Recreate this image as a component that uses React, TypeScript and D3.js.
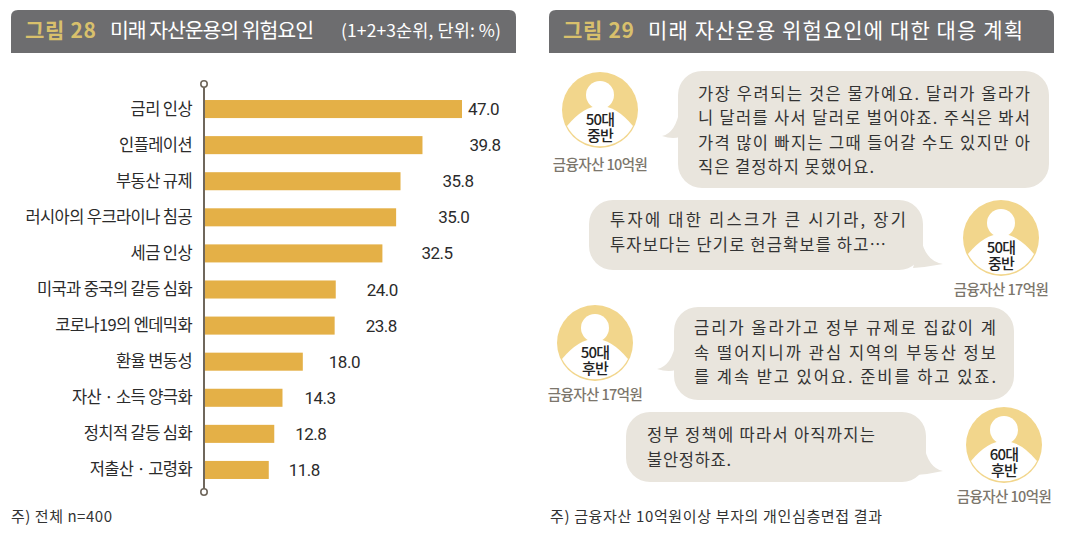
import React from "react";
import * as d3 from "d3";

const categories = ["금리 인상","인플레이션","부동산 규제","러시아의 우크라이나 침공","세금 인상","미국과 중국의 갈등 심화","코로나19의 엔데믹화","환율 변동성","자산 · 소득 양극화","정치적 갈등 심화","저출산 · 고령화"];
const values = [47.0,39.8,35.8,35.0,32.5,24.0,23.8,18.0,14.3,12.8,11.8];
const valueLabelGaps = [6,47,42,42,39,31,31,26,22,21,20];

const bubbleLines = [
  ["가장 우려되는 것은 물가예요. 달러가 올라가","니 달러를 사서 달러로 벌어야죠. 주식은 봐서","가격 많이 빠지는 그때 들어갈 수도 있지만 아","직은 결정하지 못했어요."],
  ["투자에 대한 리스크가 큰 시기라, 장기","투자보다는 단기로 현금확보를 하고…"],
  ["금리가 올라가고 정부 규제로 집값이 계","속 떨어지니까 관심 지역의 부동산 정보","를 계속 받고 있어요. 준비를 하고 있죠."],
  ["정부 정책에 따라서 아직까지는","불안정하죠."],
];
const lineWidths = [[332,332,332,176],[296,276],[302,302,302],[228,84]];
const ages = [["50대","중반"],["50대","중반"],["50대","후반"],["60대","후반"]];
const assets = ["금융자산 10억원","금융자산 17억원","금융자산 17억원","금융자산 10억원"];

const bubbleBoxes = [
  {x:678,y:71,w:371,h:117,side:"left",tx:662,ty:136,cx:600,cy:110,textX:698,firstY:100,lh:24.3,assetX:600,assetY:170},
  {x:589,y:200,w:334,h:70,side:"right",tx:943,ty:264,cx:1001,cy:238,textX:610,firstY:226,lh:24.5,assetX:1001,assetY:295},
  {x:674,y:307,w:340,h:93,side:"left",tx:657,ty:369,cx:595,cy:343,textX:694,firstY:334,lh:24.5,assetX:595,assetY:400},
  {x:626,y:412,w:300,h:70,side:"right",tx:943,ty:471,cx:1004,cy:445,textX:647,firstY:441,lh:24.5,assetX:1004,assetY:502},
];

const FONT = "'Noto Sans CJK KR','Noto Sans',sans-serif";
const x = d3.scaleLinear().domain([0,47]).range([204,462]);
const y = d3.scaleBand<string>().domain(categories).range([91,488]).paddingInner(0.5).paddingOuter(0.25);

function headerPath(x0:number,x1:number,y0:number,y1:number,r:number){
  const p = d3.path();
  p.moveTo(x0,y1); p.lineTo(x0,y0+r); p.quadraticCurveTo(x0,y0,x0+r,y0);
  p.lineTo(x1-r,y0); p.quadraticCurveTo(x1,y0,x1,y0+r); p.lineTo(x1,y1); p.closePath();
  return p.toString();
}

function tailPath(b:any){
  const p = d3.path();
  if(b.side==="left"){
    p.moveTo(b.x+2,b.ty-28);
    p.quadraticCurveTo(b.x-2,b.ty-3,b.tx,b.ty);
    p.quadraticCurveTo(b.x-2,b.ty+5,b.x+8,b.ty-2);
  } else {
    p.moveTo(b.x+b.w-2,b.ty-26);
    p.quadraticCurveTo(b.x+b.w+2,b.ty-3,b.tx,b.ty);
    p.quadraticCurveTo(b.x+b.w+4,b.ty+3,b.x+b.w-10,b.ty+4);
  }
  p.closePath();
  return p.toString();
}

function Avatar({cx,cy,lines}:{cx:number,cy:number,lines:string[]}){
  const R=38;
  const lens=`M${cx-33},${cy+16} Q${cx},${cy-24} ${cx+33},${cy+16} A${R-1},${R-1} 0 0 1 ${cx-33},${cy+16} Z`;
  return <g>
    <circle cx={cx} cy={cy} r={R} fill="#f2d68c"/>
    <circle cx={cx} cy={cy-15} r={14} fill="#fff"/>
    <path d={lens} fill="#fff"/>
    {lines.map((l,i)=><text key={i} x={cx} y={cy+15+i*16} textAnchor="middle" fontSize={15} fontWeight={500} fill="#222" letterSpacing={-0.8}>{l}</text>)}
  </g>;
}

export default function App(){
  return <svg width={1065} height={543} style={{position:"absolute",left:0,top:0,background:"#fff"}} fontFamily={FONT}>
    <path d={headerPath(11,516,10,53,7)} fill="#6d6d6f"/>
    <path d={headerPath(549,1054,10,53,7)} fill="#6d6d6f"/>
    <text x={25} y={38} fontSize={21} fontWeight={700} fill="#d8c06c" textLength={71}>그림 28</text>
    <text x={110} y={38} fontSize={20.5} fill="#fff" textLength={204}>미래 자산운용의 위험요인</text>
    <text x={341} y={37} fontSize={17.5} fill="#fff" textLength={160}>(1+2+3순위, 단위: %)</text>
    <text x={563} y={38} fontSize={21} fontWeight={700} fill="#d8c06c" textLength={71}>그림 29</text>
    <text x={648} y={38} fontSize={21} fill="#fff" textLength={375} lengthAdjust="spacing">미래 자산운용 위험요인에 대한 대응 계획</text>

    <line x1={204} x2={204} y1={84} y2={492} stroke="#6f675c" strokeWidth={2}/>
    <circle cx={204} cy={84} r={3.2} fill="#fff" stroke="#6f675c" strokeWidth={1.6}/>
    <circle cx={204} cy={492} r={3.2} fill="#fff" stroke="#6f675c" strokeWidth={1.6}/>
    {categories.map((c,i)=>{
      const by=y(c)!, bh=y.bandwidth(), my=by+bh/2;
      return <g key={c}>
        <rect x={x(0)+1} y={by} width={x(values[i])-x(0)-1} height={bh} fill="#e4b047"/>
        <text x={192} y={my+5.5} textAnchor="end" fontSize={16.5} fill="#2b2b2b" letterSpacing={-0.6}>{c}</text>
        <text x={x(values[i])+valueLabelGaps[i]} y={my+6} fontSize={17} fontWeight={400} fill="#2b2b2b" letterSpacing={-0.5} fontFamily="'Roboto',sans-serif">{values[i].toFixed(1)}</text>
      </g>;
    })}
    <text x={11} y={522} fontSize={15} fill="#333" textLength={101}>주) 전체 n=400</text>

    {bubbleBoxes.map((b,i)=><g key={i}>
      <path d={tailPath(b)} fill="#e9e5dd"/>
      <rect x={b.x} y={b.y} width={b.w} height={b.h} rx={24} fill="#e9e5dd"/>
      {bubbleLines[i].map((l,j)=><text key={j} x={b.textX} y={b.firstY+j*b.lh} fontSize={16.5} fill="#333" textLength={lineWidths[i][j]} lengthAdjust="spacing">{l}</text>)}
      <Avatar cx={b.cx} cy={b.cy} lines={ages[i]}/>
      <text x={b.assetX} y={b.assetY} textAnchor="middle" fontSize={14.5} fontWeight={500} fill="#7c766c" letterSpacing={-0.6}>{assets[i]}</text>
    </g>)}
    <text x={550} y={522} fontSize={15} fill="#333" textLength={332}>주) 금융자산 10억원이상 부자의 개인심층면접 결과</text>
  </svg>;
}
